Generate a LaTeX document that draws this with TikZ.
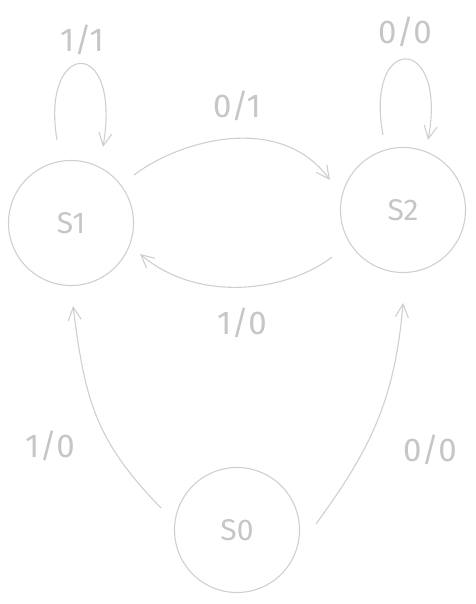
\documentclass[tikz,border=0pt]{standalone}
\usepackage{fontspec}
\setmainfont{Fira Sans}
\usetikzlibrary{arrows.meta}
\definecolor{sketch}{HTML}{CFCFCF}
\definecolor{ink}{HTML}{C6C6C6}
\begin{document}
\begin{tikzpicture}[x=1pt,y=-1pt,
  state/.style={circle,draw=sketch,line width=1.1pt,minimum size=125pt,inner sep=0pt,
                text=ink,font=\fontsize{30}{33}\selectfont},
  lbl/.style={text=ink,font=\fontsize{33}{36}\selectfont,inner sep=0pt},
  trans/.style={draw=sketch,line width=1.1pt,
                -{Straight Barb[length=13pt,width=13pt,line width=1.1pt]}}]
\useasboundingbox (0,0) rectangle (475,604);

% states
\node[state] (s1) at (71,223) {S1};
\node[state] (s2) at (403,210) {S2};
\node[state] (s0) at (237,530) {S0};

% anchor points of the connectors on the circles
\coordinate (l1a) at (57,140);  \coordinate (l1b) at (103,147);
\coordinate (l2a) at (383,135); \coordinate (l2b) at (428,140);
\coordinate (t12a) at (134,175); \coordinate (t12b) at (330,180);
\coordinate (t21a) at (332,257); \coordinate (t21b) at (140,254);
\coordinate (t01a) at (161,508); \coordinate (t01b) at (73,306);
\coordinate (t02a) at (316,524); \coordinate (t02b) at (403,303);

% self loops
\draw[trans] (l1a) .. controls (40,40) and (122,34) .. (l1b);
\draw[trans] (l2a) .. controls (364,33) and (448,33) .. (l2b);

% transitions between S1 and S2
\draw[trans] (t12a) .. controls (180,140) and (280,112) .. (t12b);
\draw[trans] (t21a) .. controls (290,290) and (200,305) .. (t21b);

% transitions out of S0
\draw[trans] (t01a) .. controls (95,440) and (85,400) .. (t01b);
\draw[trans] (t02a) .. controls (370,450) and (395,400) .. (t02b);

% labels
\node[lbl] (lab11) at (82,40) {1/1};
\node[lbl] (lab00a) at (405,32) {0/0};
\node[lbl] (lab01) at (237,106) {0/1};
\node[lbl] (lab10a) at (242,323) {1/0};
\node[lbl] (lab10b) at (50,446) {1/0};
\node[lbl] (lab00b) at (430,450) {0/0};
\end{tikzpicture}
\end{document}
